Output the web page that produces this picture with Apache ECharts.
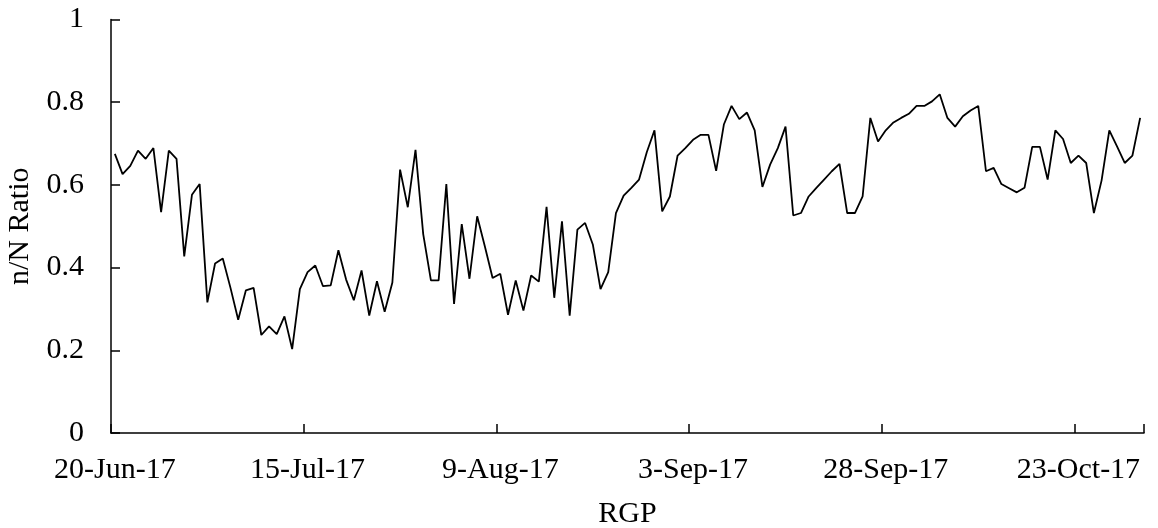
<!DOCTYPE html>
<html>
<head>
<meta charset="utf-8">
<script src="https://cdn.jsdelivr.net/npm/echarts@6/dist/echarts.min.js"></script>
<style>
html,body{margin:0;padding:0;background:#fff;}
#chart{width:1158px;height:528px;}
</style>
</head>
<body>
<div id="chart"></div>
<script>
// n/N ratio readings, one per day, grouped by month (2017)
var jun = [0.675,0.626,0.646,0.683,0.663,0.689,0.534,0.683,0.663,0.427,0.576];
var jul = [0.602,0.316,0.410,0.422,0.351,0.274,0.345,0.351,0.237,0.258,0.239,0.282,0.203,0.348,0.389,0.405,0.355,0.357,0.442,0.371,0.321,0.393,0.284,0.367,0.293,0.364,0.637,0.546,0.685,0.481,0.369];
var aug = [0.369,0.602,0.312,0.505,0.373,0.524,0.451,0.375,0.385,0.286,0.369,0.296,0.381,0.366,0.547,0.327,0.512,0.284,0.492,0.508,0.456,0.348,0.389,0.532,0.574,0.593,0.613,0.679,0.732,0.536,0.572];
var sep = [0.671,0.689,0.709,0.721,0.721,0.634,0.746,0.791,0.759,0.775,0.732,0.595,0.649,0.689,0.741,0.526,0.532,0.572,0.593,0.613,0.633,0.651,0.532,0.532,0.572,0.762,0.705,0.732,0.751,0.762];
var oct = [0.772,0.791,0.791,0.802,0.819,0.762,0.741,0.766,0.780,0.791,0.633,0.641,0.602,0.592,0.582,0.593,0.692,0.692,0.613,0.732,0.711,0.653,0.671,0.653,0.532,0.611,0.732,0.693,0.653,0.671,0.762];

var months = [
  {name: 'Jun', firstDay: 20, values: jun},
  {name: 'Jul', firstDay: 1, values: jul},
  {name: 'Aug', firstDay: 1, values: aug},
  {name: 'Sep', firstDay: 1, values: sep},
  {name: 'Oct', firstDay: 1, values: oct}
];
var yearSuffix = '17';
var xTitle = 'RGP';
var yTitle = 'n/N Ratio';

var categories = [];
var values = [];
months.forEach(function (m) {
  m.values.forEach(function (v, i) {
    categories.push((m.firstDay + i) + '-' + m.name + '-' + yearSuffix);
    values.push(v);
  });
});

var FONT = '"Liberation Serif", "DejaVu Serif", serif';
var chart = echarts.init(document.getElementById('chart'), null, {renderer: 'canvas'});
chart.setOption({
  animation: false,
  backgroundColor: '#ffffff',
  grid: {left: 111, right: 14, top: 19.5, bottom: 95, containLabel: false, outerBoundsMode: 'none'},
  xAxis: {
    type: 'category',
    data: categories,
    boundaryGap: true,
    name: xTitle,
    nameLocation: 'middle',
    nameGap: 66,
    nameTextStyle: {fontFamily: FONT, fontSize: 30, color: '#000'},
    axisLine: {lineStyle: {color: '#000', width: 1.5}},
    axisTick: {show: true, inside: true, length: 9, interval: 24, lineStyle: {color: '#000', width: 1.5}},
    axisLabel: {interval: 24, margin: 22, fontFamily: FONT, fontSize: 30, color: '#000', hideOverlap: false},
    splitLine: {show: false}
  },
  yAxis: {
    type: 'value',
    min: 0,
    max: 1,
    interval: 0.2,
    name: yTitle,
    nameLocation: 'middle',
    nameGap: 75,
    nameTextStyle: {fontFamily: FONT, fontSize: 30, color: '#000'},
    axisLine: {show: true, lineStyle: {color: '#000', width: 1.5}},
    axisTick: {show: true, inside: true, length: 9, lineStyle: {color: '#000', width: 1.5}},
    axisLabel: {margin: 27, fontFamily: FONT, fontSize: 30, color: '#000'},
    splitLine: {show: false}
  },
  series: [{
    type: 'line',
    data: values,
    showSymbol: false,
    symbol: 'none',
    lineStyle: {color: '#000', width: 1.8},
    itemStyle: {color: '#000'}
  }]
});
</script>
</body>
</html>
